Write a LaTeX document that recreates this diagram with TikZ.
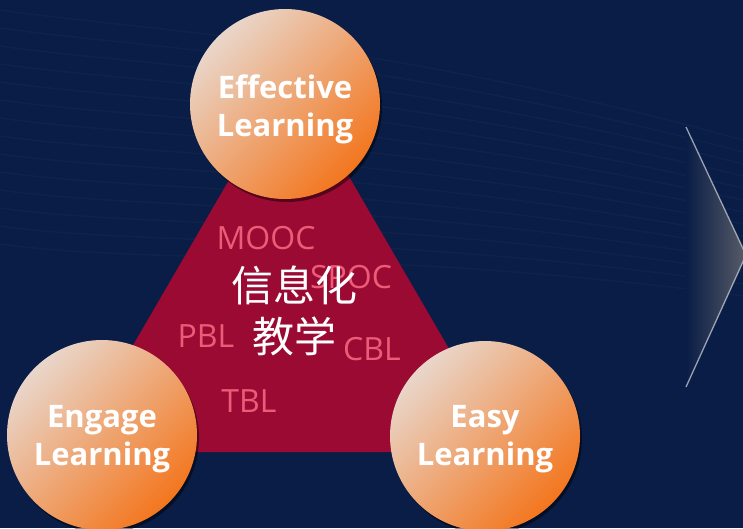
\documentclass[tikz,border=0pt]{standalone}
\usepackage{fontspec}
\setsansfont{Open Sans}
\newfontfamily\cjkfont{Noto Sans CJK SC}
\usetikzlibrary{shadows,fadings}

\definecolor{bgnavy}{RGB}{9,29,70}
\definecolor{crimson}{RGB}{154,10,51}
\definecolor{peach}{RGB}{233,214,202}
\definecolor{midorange}{RGB}{238,150,88}
\definecolor{deeporange}{RGB}{243,118,30}
\definecolor{tagpink}{RGB}{236,92,120}
\definecolor{chevgrey}{RGB}{88,92,104}
\definecolor{chevline}{RGB}{200,205,215}

\tikzset{
    hub/.style={circle, minimum size=190pt, inner sep=0pt,
        left color=peach, middle color=midorange, right color=deeporange,
        shading angle=45,
        drop shadow={fill=black, opacity=0.45, shadow xshift=2pt, shadow yshift=-3pt}},
    hubtext/.style={text=white, align=center, inner sep=0pt,
        font=\sffamily\bfseries\fontsize{31}{38}\selectfont},
    tag/.style={text=tagpink, font=\sffamily\fontsize{32}{36}\selectfont, inner sep=0pt},
    wave/.style={white, opacity=0.025, line width=1.5pt}
}

\begin{document}
\begin{tikzpicture}[x=1pt, y=-1pt]
    % Background
    \fill[bgnavy] (0,0) rectangle (743,528);
    \useasboundingbox (0,0) rectangle (743,528);

    % Faint waves
    \foreach \k in {0,...,13} {
        \draw[wave] (0,{10+18*\k}) .. controls (140,{30+18*\k}) and (380,{40+16*\k}) .. (743,{140+12*\k});
    }

    % Chevron
    \coordinate (chevtop) at (686,127);
    \coordinate (chevtip) at (746,255);
    \coordinate (chevbot) at (686,387);
    \fill[left color=bgnavy, right color=chevgrey]
        (chevtop) -- (chevtip) -- (chevbot) -- cycle;
    \draw[chevline, line width=1.3pt, opacity=0.75]
        (chevtop) -- (chevtip) -- (chevbot);

    % Triangle
    \coordinate (apex) at (290,75);
    \coordinate (leftcorner) at (71,452);
    \coordinate (rightcorner) at (509,452);
    \fill[crimson] (apex) -- (leftcorner) -- (rightcorner) -- cycle;

    % Methods
    \node[tag] (mooc) at (266,238) {MOOC};
    \node[tag] (spoc) at (351,277) {SPOC};
    \node[tag] (pbl) at (206,336) {PBL};
    \node[tag] (cbl) at (372,349) {CBL};
    \node[tag] (tbl) at (249,401) {TBL};

    % Centre
    \node[text=white, align=center, font=\cjkfont\fontsize{42}{51}\selectfont] (centre) at (294,311) {信息化\\教学};

    % Circles
    \node[hub] (effective) at (285,104) {};
    \node[hub] (engage) at (102,435) {};
    \node[hub] (easy) at (485,436) {};
    \node[hubtext] (effectivetext) at ([yshift=-5pt]effective.center) {Effective\\Learning};
    \node[hubtext] (engagetext) at ([yshift=-4pt]engage.center) {Engage\\Learning};
    \node[hubtext] (easytext) at ([yshift=-3pt]easy.center) {Easy\\Learning};
\end{tikzpicture}
\end{document}
